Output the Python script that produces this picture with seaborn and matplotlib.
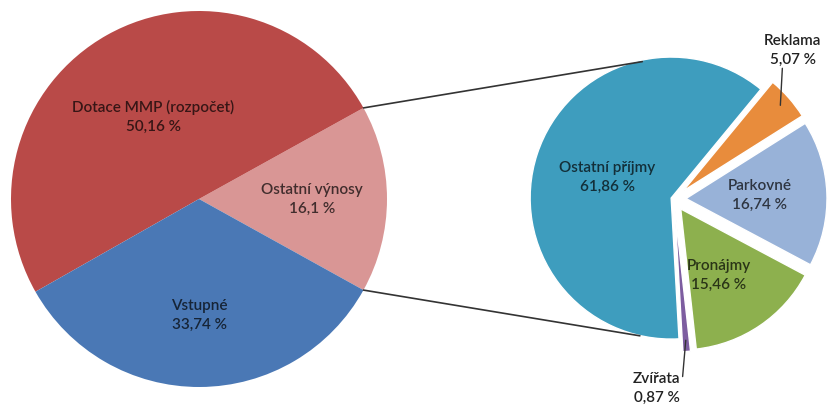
import matplotlib.pyplot as plt
import numpy as np
import seaborn as sns

# main pie
main_labels = ["Ostatní výnosy", "Dotace MMP (rozpočet)", "Vstupné"]
main_values = [16.1, 50.16, 33.74]
main_colors = ["#D99695", "#B94A48", "#4A78B5"]

# detail of "Ostatní výnosy"
sub_labels = ["Ostatní příjmy", "Zvířata", "Pronájmy", "Parkovné", "Reklama"]
sub_values = [61.86, 0.87, 15.46, 16.74, 5.07]
sub_colors = ["#3E9DBE", "#7D5DA0", "#8DB04E", "#98B2D8", "#E88C3C"]


def fmt(v):
    return f"{v:g} %".replace(".", ",")


def darker(c, k=0.3):
    rgb = np.array(plt.matplotlib.colors.to_rgb(c))
    return tuple(rgb * k)


sns.set_theme(style="white")
plt.rcParams["font.family"] = ["Lato", "DejaVu Sans"]

fig = plt.figure(figsize=(8.31, 4.08), dpi=100)
ax = fig.add_axes([0, 0, 1, 1])

c1, r1 = (199, 209), 188
c2, r2 = (674, 209), 141

w1, _ = ax.pie(main_values, colors=main_colors, startangle=-main_values[0] * 3.6 / 2,
               center=c1, radius=r1, wedgeprops=dict(linewidth=0))
# explode is in data units here (pixels)
w2, _ = ax.pie(sub_values, colors=sub_colors, startangle=50.5, center=c2, radius=r2,
               explode=[3, 12, 12, 12, 12],
               wedgeprops=dict(linewidth=1, edgecolor="white"))

# inner labels of main pie
main_dist = [0.6, 0.5, 0.62]
for w, lab, v, d in zip(w1, main_labels, main_values, main_dist):
    a = np.deg2rad((w.theta1 + w.theta2) / 2)
    x, y = w.center[0] + d * r1 * np.cos(a), w.center[1] + d * r1 * np.sin(a)
    ax.text(x, y, f"{lab}\n{fmt(v)}", ha="center", va="center", fontsize=11,
            fontweight="semibold", color=darker(w.get_facecolor()[:3], 0.3),
            linespacing=1.45)

# labels of detail pie
sub_pos = [(0.5, 0), (1.35, -10), (0.63, -4), (0.61, 0), (1.35, 10)]
for w, lab, v, (d, da) in zip(w2, sub_labels, sub_values, sub_pos):
    am = np.deg2rad((w.theta1 + w.theta2) / 2)
    a = am + np.deg2rad(da)
    x, y = c2[0] + d * r2 * np.cos(a), c2[1] + d * r2 * np.sin(a)
    col = darker(w.get_facecolor()[:3], 0.3) if d < 1 else "#222222"
    ax.text(x, y, f"{lab}\n{fmt(v)}", ha="center", va="center", fontsize=11,
            fontweight="semibold", color=col, linespacing=1.45)
    if d > 1:
        px, py = w.center[0] + 0.92 * r2 * np.cos(am), w.center[1] + 0.92 * r2 * np.sin(am)
        if np.sin(am) > 0:
            qx, qy = px + 2, y - 18
        else:
            qx, qy = x + 26, y + 12
        ax.plot([px, qx], [py, qy], color="#333333", lw=1)

# connector lines
t1 = np.deg2rad([w1[0].theta2, w1[0].theta1])
t2 = np.deg2rad([103, 256])
for a, b in zip(t1, t2):
    ax.plot([c1[0] + r1 * np.cos(a), c2[0] + r2 * np.cos(b)],
            [c1[1] + r1 * np.sin(a), c2[1] + r2 * np.sin(b)], color="#333333", lw=1.2)

ax.set_xlim(0, 831)
ax.set_ylim(0, 408)
ax.set_aspect("equal")
ax.axis("off")
fig.savefig("out.png", dpi=100, facecolor="white")
